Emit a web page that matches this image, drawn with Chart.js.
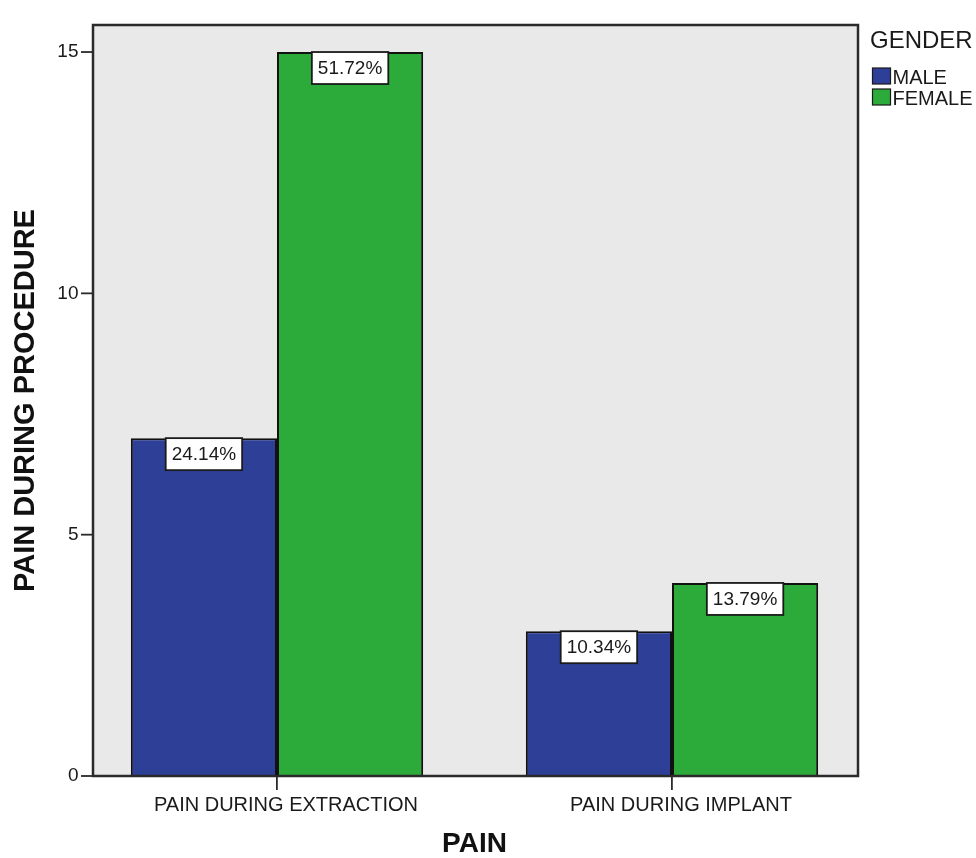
<!DOCTYPE html>
<html>
<head>
<meta charset="utf-8">
<script src="https://cdn.jsdelivr.net/npm/chart.js@4.4.1/dist/chart.umd.min.js"></script>
<style>
  html, body { margin: 0; padding: 0; background: #ffffff; }
  #wrap { width: 976px; height: 858px; position: relative; }
</style>
</head>
<body>
<div id="wrap"><canvas id="c" width="976" height="858"></canvas></div>
<script>
const categories = ['PAIN DURING EXTRACTION', 'PAIN DURING IMPLANT'];
const seriesNames = ['MALE', 'FEMALE'];
const maleValues = [7, 3];
const femaleValues = [15, 4];
const malePct = ['24.14%', '10.34%'];
const femalePct = ['51.72%', '13.79%'];
const yTicks = [0, 5, 10, 15];
const legendTitle = 'GENDER';
const xTitle = 'PAIN';
const yTitle = 'PAIN DURING PROCEDURE';

const FONT = "'Liberation Sans', Arial, Helvetica, sans-serif";
const BLUE = '#2e3f98';
const GREEN = '#2cab3b';
const TEXT = '#1a1a1a';
const pctLabels = [malePct, femalePct];

const decor = {
  id: 'decor',
  beforeDraw(chart) {
    const ctx = chart.ctx, a = chart.chartArea;
    ctx.save();
    ctx.fillStyle = '#ffffff';
    ctx.fillRect(0, 0, chart.width, chart.height);
    ctx.fillStyle = '#e9e9e9';
    ctx.fillRect(a.left + 13.5, a.top, (a.right - 11.5) - (a.left + 13.5), a.bottom - a.top);
    ctx.restore();
  },
  afterDatasetsDraw(chart) {
    const ctx = chart.ctx, a = chart.chartArea;
    const L = a.left + 13.5, R = a.right - 11.5;
    ctx.save();
    // frame
    ctx.strokeStyle = '#2a2a2a';
    ctx.lineWidth = 2.5;
    ctx.strokeRect(L, a.top, R - L, a.bottom - a.top);
    // y tick marks
    const ys = chart.scales.y;
    ctx.lineWidth = 1.8;
    yTicks.forEach(v => {
      const y = ys.getPixelForValue(v);
      ctx.beginPath();
      ctx.moveTo(L - 12, y);
      ctx.lineTo(L, y);
      ctx.stroke();
    });
    // value label boxes
    ctx.font = '19px ' + FONT;
    ctx.textAlign = 'center';
    ctx.textBaseline = 'middle';
    chart.data.datasets.forEach((ds, di) => {
      const meta = chart.getDatasetMeta(di);
      meta.data.forEach((bar, i) => {
        const txt = pctLabels[di][i];
        const w = ctx.measureText(txt).width + 12;
        const h = 32;
        const x0 = bar.x - w / 2, y0 = bar.y;
        ctx.fillStyle = '#ffffff';
        ctx.fillRect(x0, y0, w, h);
        ctx.strokeStyle = '#1a1a1a';
        ctx.lineWidth = 1.8;
        ctx.strokeRect(x0, y0, w, h);
        ctx.fillStyle = TEXT;
        ctx.fillText(txt, bar.x, y0 + h / 2 + 1);
      });
    });
    // legend
    ctx.textAlign = 'left';
    ctx.textBaseline = 'alphabetic';
    ctx.fillStyle = TEXT;
    ctx.font = '24px ' + FONT;
    ctx.fillText(legendTitle, a.right + 0.5, 48);
    ctx.font = '20px ' + FONT;
    chart.data.datasets.forEach((ds, di) => {
      const top = 68 + di * 21;
      ctx.fillStyle = ds.backgroundColor;
      ctx.fillRect(a.right + 3, top, 18, 16);
      ctx.strokeStyle = '#1a1a1a';
      ctx.lineWidth = 1.2;
      ctx.strokeRect(a.right + 3, top, 18, 16);
      ctx.fillStyle = TEXT;
      ctx.fillText(ds.label, a.right + 23, top + 15.5);
    });
    ctx.restore();
  }
};

new Chart(document.getElementById('c'), {
  type: 'bar',
  data: {
    labels: categories,
    datasets: [
      { label: seriesNames[0], data: maleValues, backgroundColor: BLUE, borderColor: '#111111', borderWidth: 2 },
      { label: seriesNames[1], data: femaleValues, backgroundColor: GREEN, borderColor: '#111111', borderWidth: 2 }
    ]
  },
  options: {
    responsive: false,
    animation: false,
    devicePixelRatio: 1,
    layout: { padding: { top: 25, right: 106.5, left: 0, bottom: 0 } },
    datasets: { bar: { categoryPercentage: 0.74, barPercentage: 1.0 } },
    plugins: { legend: { display: false }, tooltip: { enabled: false } },
    scales: {
      x: {
        offset: true,
        grid: { display: true, drawOnChartArea: false, drawTicks: true, tickLength: 14, offset: false, color: '#2a2a2a', lineWidth: 1.8 },
        border: { display: false },
        ticks: { font: { family: FONT, size: 20 }, color: TEXT, padding: 3, labelOffset: 9, maxRotation: 0, autoSkip: false },
        title: { display: true, text: xTitle, font: { family: FONT, size: 28, weight: 'bold', lineHeight: 1 }, color: '#111111', padding: { top: 0, bottom: 0 } },
        afterFit(scale) { scale.height = 82; }
      },
      y: {
        min: 0,
        max: 15.56,
        afterBuildTicks(scale) { scale.ticks = yTicks.map(v => ({ value: v })); },
        grid: { display: false, drawTicks: false },
        border: { display: false },
        ticks: { font: { family: FONT, size: 19 }, color: TEXT, padding: 1 },
        title: { display: true, text: yTitle, font: { family: FONT, size: 29, weight: 'bold', lineHeight: 1 }, color: '#111111', padding: { top: 11, bottom: 0 } },
        afterFit(scale) { scale.width = 79.5; }
      }
    }
  },
  plugins: [decor]
});
</script>
</body>
</html>
